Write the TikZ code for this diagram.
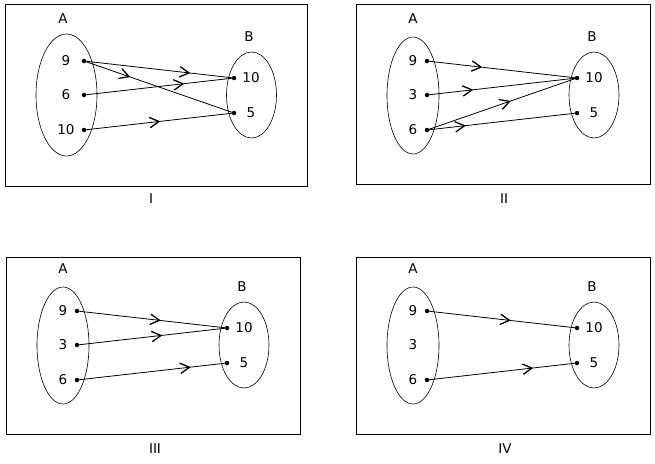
\documentclass[tikz,border=0pt]{standalone}
\usepackage{fontspec}
\setmainfont{DejaVu Sans}
\usetikzlibrary{shapes.geometric,decorations.markings}
\begin{document}
\begin{tikzpicture}[x=1pt,y=-1pt,
  txt/.style={inner sep=0pt,font=\fontsize{13.5}{16}\selectfont},
  dotnode/.style={circle,fill,inner sep=0pt,minimum size=4.5pt},
  frame/.style={draw,line width=1pt},
  setell/.style={ellipse,draw,line width=0.6pt,inner sep=0pt},
  link/.style={line width=0.8pt},
  tipat/.style={link,postaction={decorate},decoration={markings,mark=at position #1 with {\draw[line width=1.3pt,line cap=round,line join=round] (-9pt,5pt) -- (0pt,0pt) -- (-9pt,-5pt);}}}]
\useasboundingbox (0,0) rectangle (655,463);

% ---------- Panel I ----------
\draw[frame] (5,4.5) rectangle (307,186);
\node[setell,minimum width=61pt,minimum height=122pt] (IA) at (66.5,95) {};
\node[setell,minimum width=50pt,minimum height=86pt] (IB) at (251.5,95) {};
\node[txt] (IAl) at (63,19) {A};
\node[txt] (IBl) at (249,37) {B};
\node[txt] (Ia1l) at (66,61) {9};
\node[txt] (Ia2l) at (66,95) {6};
\node[txt] (Ia3l) at (66,130) {10};
\node[txt] (Ib1l) at (251,78) {10};
\node[txt] (Ib2l) at (251,113) {5};
\node[dotnode] (Ia1) at (84,61) {};
\node[dotnode] (Ia2) at (84,95) {};
\node[dotnode] (Ia3) at (84,130) {};
\node[dotnode] (Ib1) at (234,78) {};
\node[dotnode] (Ib2) at (234,113) {};
\draw[tipat=0.70] (Ia1.center) -- (Ib1.center);
\draw[tipat=0.30] (Ia1.center) -- (Ib2.center);
\draw[tipat=0.66] (Ia2.center) -- (Ib1.center);
\draw[tipat=0.50] (Ia3.center) -- (Ib2.center);
\node[txt] (Icap) at (151,199) {I};

% ---------- Panel II ----------
\draw[frame] (356,4.5) rectangle (650,184);
\node[setell,minimum width=52pt,minimum height=117pt] (IIA) at (413,95.5) {};
\node[setell,minimum width=50pt,minimum height=86pt] (IIB) at (594,95) {};
\node[txt] (IIAl) at (413,19) {A};
\node[txt] (IIBl) at (592,37) {B};
\node[txt] (IIa1l) at (413,61) {9};
\node[txt] (IIa2l) at (413,95) {3};
\node[txt] (IIa3l) at (413,130) {6};
\node[txt] (IIb1l) at (594,78) {10};
\node[txt] (IIb2l) at (594,113) {5};
\node[dotnode] (IIa1) at (427,61) {};
\node[dotnode] (IIa2) at (427,95) {};
\node[dotnode] (IIa3) at (427,130) {};
\node[dotnode] (IIb1) at (577,78) {};
\node[dotnode] (IIb2) at (577,113) {};
\draw[tipat=0.36] (IIa1.center) -- (IIb1.center);
\draw[tipat=0.30] (IIa2.center) -- (IIb1.center);
\draw[tipat=0.55] (IIa3.center) -- (IIb1.center);
\draw[tipat=0.25] (IIa3.center) -- (IIb2.center);
\node[txt] (IIcap) at (504,199) {II};

% ---------- Panel III ----------
\draw[frame] (6,257) rectangle (300,434);
\node[setell,minimum width=52pt,minimum height=117pt] (IIIA) at (63,345.5) {};
\node[setell,minimum width=50pt,minimum height=86pt] (IIIB) at (244,345) {};
\node[txt] (IIIAl) at (63,269) {A};
\node[txt] (IIIBl) at (242,287) {B};
\node[txt] (IIIa1l) at (63,311) {9};
\node[txt] (IIIa2l) at (63,345) {3};
\node[txt] (IIIa3l) at (63,380) {6};
\node[txt] (IIIb1l) at (244,328) {10};
\node[txt] (IIIb2l) at (244,363) {5};
\node[dotnode] (IIIa1) at (77,311) {};
\node[dotnode] (IIIa2) at (77,345) {};
\node[dotnode] (IIIa3) at (77,380) {};
\node[dotnode] (IIIb1) at (227,328) {};
\node[dotnode] (IIIb2) at (227,363) {};
\draw[tipat=0.55] (IIIa1.center) -- (IIIb1.center);
\draw[tipat=0.56] (IIIa2.center) -- (IIIb1.center);
\draw[tipat=0.75] (IIIa3.center) -- (IIIb2.center);
\node[txt] (IIIcap) at (155,449) {III};

% ---------- Panel IV ----------
\draw[frame] (356,257) rectangle (650,434);
\node[setell,minimum width=52pt,minimum height=117pt] (IVA) at (413,345.5) {};
\node[setell,minimum width=50pt,minimum height=86pt] (IVB) at (594,345) {};
\node[txt] (IVAl) at (413,269) {A};
\node[txt] (IVBl) at (592,287) {B};
\node[txt] (IVa1l) at (413,311) {9};
\node[txt] (IVa2l) at (413,345) {3};
\node[txt] (IVa3l) at (413,380) {6};
\node[txt] (IVb1l) at (594,328) {10};
\node[txt] (IVb2l) at (594,363) {5};
\node[dotnode] (IVa1) at (427,311) {};
\node[dotnode] (IVa3) at (427,380) {};
\node[dotnode] (IVb1) at (577,328) {};
\node[dotnode] (IVb2) at (577,363) {};
\draw[tipat=0.55] (IVa1.center) -- (IVb1.center);
\draw[tipat=0.70] (IVa3.center) -- (IVb2.center);
\node[txt] (IVcap) at (505,449) {IV};
\end{tikzpicture}
\end{document}
